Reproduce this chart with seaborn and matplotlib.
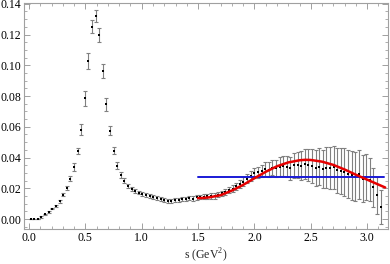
import numpy as np
import pandas as pd
import matplotlib
matplotlib.use("Agg")
import matplotlib.pyplot as plt
import seaborn as sns
from matplotlib.ticker import MultipleLocator, FormatStrFormatter

# ---- data ----
s_vals = [0.015, 0.047, 0.079, 0.111, 0.143, 0.175, 0.207, 0.239, 0.271, 0.303,
          0.335, 0.367, 0.399, 0.431, 0.463, 0.495, 0.527, 0.559, 0.591, 0.623,
          0.655, 0.687, 0.719, 0.751, 0.783, 0.815, 0.847, 0.879, 0.911, 0.943,
          0.975, 1.007, 1.039, 1.071, 1.103, 1.135, 1.167, 1.199, 1.231, 1.263,
          1.295, 1.327, 1.359, 1.391, 1.423, 1.455, 1.487, 1.519, 1.551, 1.583,
          1.615, 1.647, 1.679, 1.711, 1.743, 1.775, 1.807, 1.839, 1.871, 1.903,
          1.935, 1.967, 1.999, 2.031, 2.063, 2.095, 2.127, 2.159, 2.191, 2.223,
          2.255, 2.287, 2.319, 2.351, 2.383, 2.415, 2.447, 2.479, 2.511, 2.543,
          2.575, 2.607, 2.639, 2.671, 2.703, 2.735, 2.767, 2.799, 2.831, 2.863,
          2.895, 2.927, 2.959, 2.991, 3.023, 3.055, 3.087, 3.119]

v_vals = [0.0000, 0.0000, 0.0000, 0.0012, 0.0030, 0.0048, 0.0068, 0.0086, 0.0115, 0.0158,
          0.0200, 0.0262, 0.0339, 0.0443, 0.0580, 0.0785, 0.1025, 0.1250, 0.1320, 0.1195,
          0.0960, 0.0745, 0.0575, 0.0445, 0.0347, 0.0287, 0.0250, 0.0213, 0.0195, 0.0183,
          0.0172, 0.0163, 0.0155, 0.0148, 0.0142, 0.0135, 0.0128, 0.0122, 0.0118, 0.0119,
          0.0123, 0.0126, 0.0128, 0.0130, 0.0136, 0.0133, 0.0140, 0.0143, 0.0146, 0.0148,
          0.0149, 0.0150, 0.0158, 0.0166, 0.0175, 0.0188, 0.0198, 0.0212, 0.0228, 0.0243,
          0.0262, 0.0280, 0.0298, 0.0305, 0.0312, 0.0325, 0.0322, 0.0335, 0.0330, 0.0340,
          0.0345, 0.0340, 0.0330, 0.0350, 0.0352, 0.0348, 0.0358, 0.0352, 0.0345, 0.0330,
          0.0340, 0.0325, 0.0335, 0.0333, 0.0337, 0.0318, 0.0312, 0.0305, 0.0295, 0.0285,
          0.0275, 0.0290, 0.0262, 0.0272, 0.0255, 0.0205, 0.0155, 0.0080]

err_vals = [0.0003, 0.0003, 0.0003, 0.0005, 0.0005, 0.0006, 0.0006, 0.0007, 0.0008, 0.0010,
            0.0012, 0.0017, 0.0024, 0.0022, 0.0035, 0.0047, 0.0052, 0.0042, 0.0040, 0.0045,
            0.0045, 0.0040, 0.0030, 0.0025, 0.0022, 0.0018, 0.0015, 0.0012, 0.0012, 0.0012,
            0.0012, 0.0012, 0.0012, 0.0012, 0.0012, 0.0012, 0.0012, 0.0012, 0.0013, 0.0013,
            0.0013, 0.0013, 0.0013, 0.0014, 0.0014, 0.0014, 0.0015, 0.0015, 0.0016, 0.0016,
            0.0017, 0.0017, 0.0018, 0.0019, 0.0020, 0.0021, 0.0022, 0.0023, 0.0025, 0.0027,
            0.0029, 0.0031, 0.0033, 0.0036, 0.0040, 0.0044, 0.0048, 0.0052, 0.0057, 0.0061,
            0.0066, 0.0070, 0.0076, 0.0081, 0.0087, 0.0092, 0.0098, 0.0104, 0.0110, 0.0116,
            0.0121, 0.0126, 0.0131, 0.0136, 0.0141, 0.0146, 0.0150, 0.0154, 0.0157, 0.0160,
            0.0160, 0.0158, 0.0154, 0.0148, 0.0140, 0.0130, 0.0120, 0.0110]

fit_s = [1.50, 1.55, 1.60, 1.70, 1.80, 1.90, 2.00, 2.10, 2.20, 2.30, 2.40, 2.45,
         2.50, 2.60, 2.70, 2.80, 2.90, 3.00, 3.10, 3.16]
fit_v = [0.0136, 0.0137, 0.0141, 0.0155, 0.0185, 0.0222, 0.0265, 0.0307, 0.0343, 0.0368,
         0.0382, 0.0385, 0.0384, 0.0373, 0.0352, 0.0322, 0.0288, 0.0256, 0.0224, 0.0205]

const_s = [1.50, 3.15]
const_v = [0.0275, 0.0275]

xticks = [0.0, 0.5, 1.0, 1.5, 2.0, 2.5, 3.0]
yticks = [0.00, 0.02, 0.04, 0.06, 0.08, 0.10, 0.12, 0.14]

# ---- plotting ----
sns.set_style("ticks")
plt.rcParams['font.family'] = ['Liberation Serif', 'DejaVu Serif']
plt.rcParams['mathtext.fontset'] = 'custom'
plt.rcParams['mathtext.rm'] = 'Liberation Serif'

fig = plt.figure(figsize=(3.9, 2.64), dpi=100)
ax = fig.add_axes([24/390, 35/264, 364/390, 226/264])

df = pd.DataFrame({"s": s_vals, "v": v_vals, "err": err_vals})
ax.errorbar(df["s"], df["v"], yerr=df["err"], fmt="none", ecolor="#808080",
            elinewidth=0.8, capsize=1.6, capthick=0.8, zorder=2)
sns.scatterplot(data=df, x="s", y="v", ax=ax, color="black", marker="s",
                s=4.5, linewidth=0, zorder=3)

dfit = pd.DataFrame({"s": fit_s, "v": fit_v})
dconst = pd.DataFrame({"s": const_s, "v": const_v})
sns.lineplot(data=dconst, x="s", y="v", ax=ax, color="#1a1ad6", lw=1.4, zorder=4)
sns.lineplot(data=dfit, x="s", y="v", ax=ax, color="#e60000", lw=1.8, zorder=5)

ax.set_xlim(-0.044, 3.185)
ax.set_ylim(-0.0065, 0.1405)
ax.set_xticks(xticks)
ax.set_yticks(yticks)
ax.xaxis.set_major_formatter(FormatStrFormatter('%.1f'))
ax.yaxis.set_major_formatter(FormatStrFormatter('%.2f'))
ax.xaxis.set_minor_locator(MultipleLocator(0.1))
ax.yaxis.set_minor_locator(MultipleLocator(0.005))

for sp in ax.spines.values():
    sp.set_visible(True)
    sp.set_color("#a0a0a0")
    sp.set_linewidth(0.8)

ax.tick_params(which="both", direction="in", top=True, right=True,
               color="#a0a0a0", labelsize=8.5, labelcolor="black", pad=2)
ax.tick_params(which="major", length=4, width=0.7)
ax.tick_params(which="minor", length=2, width=0.6)

ax.set_xlabel("s (GeV$^2$)", fontsize=8.5, labelpad=2)
ax.set_ylabel("")

fig.savefig("out.png", dpi=100)
